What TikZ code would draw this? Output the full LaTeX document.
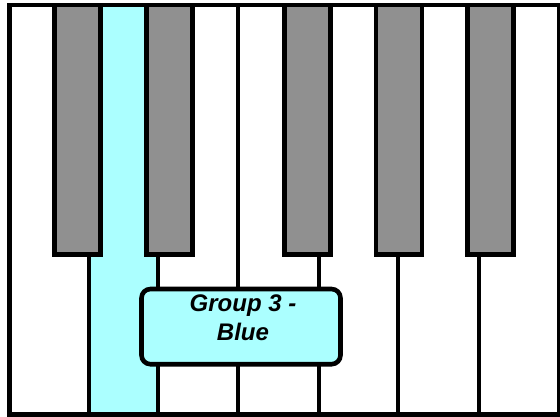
\documentclass[tikz,border=0pt]{standalone}
\usepackage{fontspec}
\setmainfont{Liberation Sans}
\usetikzlibrary{positioning}
\definecolor{keyclr}{rgb}{0.565, 0.565, 0.565}
\definecolor{hiclr}{rgb}{0.67, 1, 1}
\tikzset{ %
  ,kbdframe/.style={draw, rectangle, line width=4.5pt, inner sep=0, minimum width=549.4pt, minimum height=409.5pt}
  ,blackkey/.style={draw, rectangle, fill=keyclr, line width=4.5pt, inner sep=0, minimum width=46.4pt, minimum height=249.7pt}
  ,divider/.style={line width=4pt}
  ,grpbox/.style={draw, rectangle, fill=hiclr, rounded corners=9pt, line width=4.6pt, inner sep=0, minimum width=199pt, minimum height=75.2pt}
  ,grptext/.style={inner sep=0, align=center, font=\fontsize{24}{29}\selectfont\bfseries\itshape}
}

\begin{document}
\begin{tikzpicture}[x=1pt, y=-1pt]
  \useasboundingbox (0,0) rectangle (560,416);
  % the D key, coloured
  \fill[hiclr] (101,5) -- (146,5) -- (146,255) -- (157.5,255) -- (157.5,414)
    -- (89,414) -- (89,255) -- (101,255) -- cycle;
  % bottom ends of the white key dividers
  \coordinate (d1) at (89,414);
  \coordinate (d2) at (157.5,414);
  \coordinate (d3) at (238,414);
  \coordinate (d4) at (319,414);
  \coordinate (d5) at (398,414);
  \coordinate (d6) at (479,414);
  \draw
  node[kbdframe] (kbd) at (284.2,209.75) {}
  node[blackkey] (bk1) at (77.5,129.85) {}
  node[blackkey] (bk2) at (169.5,129.85) {}
  node[blackkey] (bk3) at (307.5,129.85) {}
  node[blackkey] (bk4) at (399,129.85) {}
  node[blackkey] (bk5) at (490.5,129.85) {};
  \draw [divider] (d1) -- (d1 |- bk1.south) (d2) -- (d2 |- bk2.south) (d3) -- (d3 |- kbd.north)
    (d4) -- (d4 |- bk3.south) (d5) -- (d5 |- bk4.south) (d6) -- (d6 |- bk5.south);
  \draw
  node[grpbox] (grp) at (241,326.6) {}
  node[grptext, above=-54pt of grp, xshift=2pt] (grplbl) {Group 3 -\\Blue};
\end{tikzpicture}
\end{document}
